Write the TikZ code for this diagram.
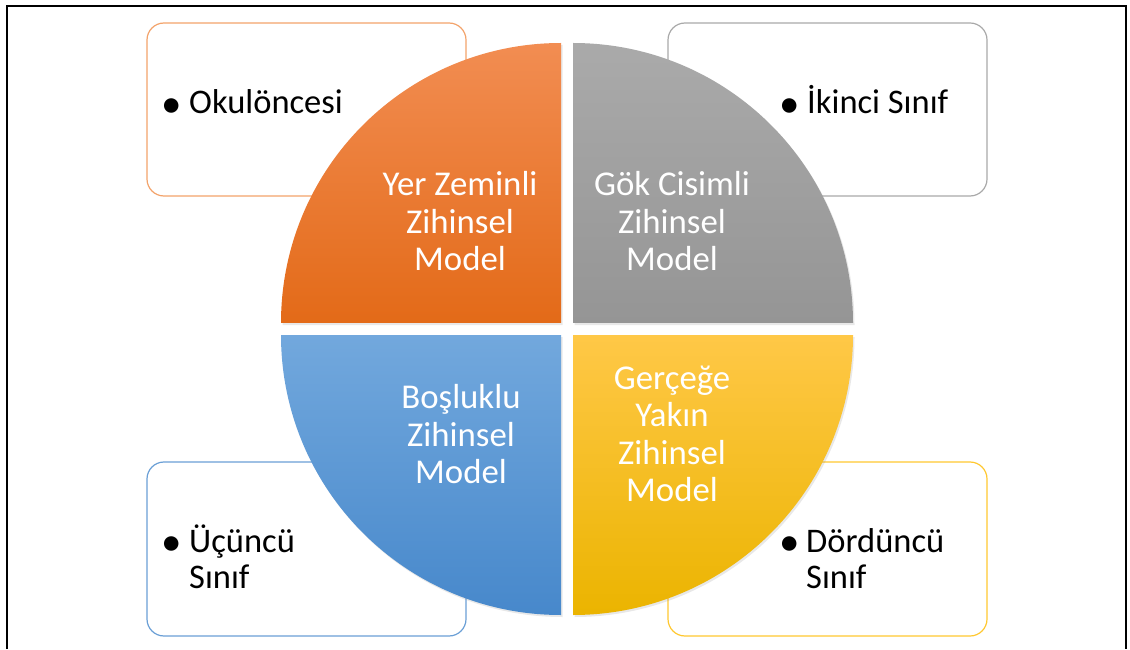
\documentclass[tikz,border=0pt]{standalone}
\usepackage{fontspec}
\setmainfont{Carlito}
\usetikzlibrary{shadows}
\definecolor{orTop}{HTML}{F28D52}
\definecolor{orBot}{HTML}{E36A18}
\definecolor{grTop}{HTML}{AAAAAA}
\definecolor{grBot}{HTML}{959595}
\definecolor{blTop}{HTML}{72A8DD}
\definecolor{blBot}{HTML}{4788CB}
\definecolor{yeTop}{HTML}{FFC847}
\definecolor{yeBot}{HTML}{EBB400}
\definecolor{orLine}{HTML}{F3A36B}
\definecolor{grLine}{HTML}{A9A9A9}
\definecolor{blLine}{HTML}{6A9FD6}
\definecolor{yeLine}{HTML}{FFC830}
\tikzset{
  infobox/.style={rounded corners=17pt, line width=1.2pt, fill=white},
  quarter/.style={drop shadow={shadow xshift=1.5pt, shadow yshift=-2pt, opacity=0.18}},
  qtext/.style={anchor=base, inner sep=0pt, text=white, text height=25pt, text depth=8pt, font=\fontsize{34.8}{38}\selectfont},
  btext/.style={anchor=base west, inner sep=0pt, text=black, text height=25pt, text depth=7pt, font=\fontsize{34.5}{38}\selectfont},
  bullet/.style={anchor=center, inner sep=0pt, text=black, font=\fontsize{41}{38}\selectfont},
}
\begin{document}
\begin{tikzpicture}[x=1pt,y=1pt]
\useasboundingbox (0,0) rectangle (1130,649);
\fill[white] (0,0) rectangle (1130,649);
% outer frame
\draw[line width=1.6pt, black] (7,0) -- (7,643) -- (1126,643) -- (1126,0);
% boxes
\draw[infobox, draw=orLine] (147,453) rectangle (466,626);
\draw[infobox, draw=grLine] (668,453) rectangle (987,626);
\draw[infobox, draw=blLine] (147,13) rectangle (466,187);
\draw[infobox, draw=yeLine] (668,13) rectangle (987,187);
% quarters
\shade[quarter, top color=orTop, bottom color=orBot]
  (561,326) -- (281,326) arc[start angle=180, end angle=90, radius=280pt] -- cycle;
\shade[quarter, top color=grTop, bottom color=grBot]
  (573,326) -- (573,606) arc[start angle=90, end angle=0, radius=280pt] -- cycle;
\shade[quarter, top color=blTop, bottom color=blBot]
  (561,314) -- (281,314) arc[start angle=180, end angle=270, radius=280pt] -- cycle;
\shade[quarter, top color=yeTop, bottom color=yeBot]
  (573,314) -- (853,314) arc[start angle=0, end angle=-90, radius=280pt] -- cycle;
% quarter texts
\node[qtext] (o1) at (460,453) {Yer Zeminli};
\node[qtext] (o2) at (460,415) {Zihinsel};
\node[qtext] (o3) at (460,378) {Model};
\node[qtext] (g1) at (672,453) {Gök Cisimli};
\node[qtext] (g2) at (672,415) {Zihinsel};
\node[qtext] (g3) at (672,378) {Model};
\node[qtext] (b1) at (461,241) {Boşluklu};
\node[qtext] (b2) at (461,203) {Zihinsel};
\node[qtext] (b3) at (461,166) {Model};
\node[qtext] (y1) at (672,260) {Gerçeğe};
\node[qtext] (y2) at (672,223) {Yakın};
\node[qtext] (y3) at (672,185) {Zihinsel};
\node[qtext] (y4) at (672,148) {Model};
% bullet texts
\node[bullet] (ob) at (172,541) {•};
\node[btext] (ot) at (189,535) {Okulöncesi};
\node[bullet] (ib) at (790,541) {•};
\node[btext] (it) at (807,535) {İkinci Sınıf};
\node[bullet] (ub) at (172,103) {•};
\node[btext] (ut1) at (189,97) {Üçüncü};
\node[btext] (ut2) at (189,61) {Sınıf};
\node[bullet] (db) at (790,103) {•};
\node[btext] (dt1) at (806,97) {Dördüncü};
\node[btext] (dt2) at (806,61) {Sınıf};
\end{tikzpicture}
\end{document}
